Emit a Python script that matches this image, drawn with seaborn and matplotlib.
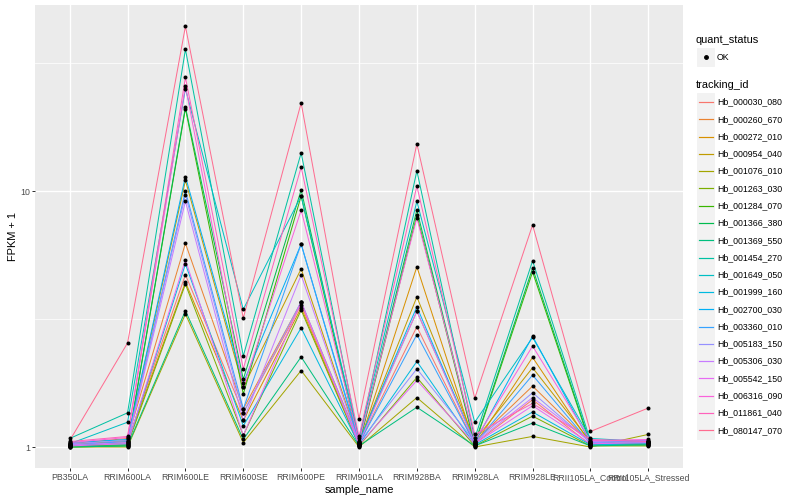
import numpy as np
import pandas as pd
import seaborn as sns
import matplotlib.pyplot as plt
from matplotlib.patches import Rectangle

# samples on the x axis
samples = ["PB350LA", "RRIM600LA", "RRIM600LE", "RRIM600SE", "RRIM600PE",
           "RRIM901LA", "RRIM928BA", "RRIM928LA", "RRIM928LE",
           "RRII105LA_Control", "RRII105LA_Stressed"]

genes = ["Hb_000030_080", "Hb_000260_670", "Hb_000272_010", "Hb_000954_040",
         "Hb_001076_010", "Hb_001263_030", "Hb_001284_070", "Hb_001366_380",
         "Hb_001369_550", "Hb_001454_270", "Hb_001649_050", "Hb_001999_160",
         "Hb_002700_030", "Hb_003360_010", "Hb_005183_150", "Hb_005306_030",
         "Hb_005542_150", "Hb_006316_090", "Hb_011861_040", "Hb_080147_070"]

# ggplot default hue palette for 20 levels
colors = ["#F8766D", "#EA8331", "#D89000", "#C09B00", "#A3A500", "#7CAE00",
          "#39B600", "#00BB4E", "#00BF7D", "#00C1A3", "#00BFC4", "#00BAE0",
          "#00B0F6", "#35A2FF", "#9590FF", "#C77CFF", "#E76BF3", "#FA62DB",
          "#FF62BC", "#FF6C90"]

# FPKM + 1 per gene, one value per sample
v_000030 = [1.02, 1.05, 4.71, 1.36, 3.60, 1.03, 2.95, 1.03, 1.53, 1.02, 1.04]
v_000260 = [1.03, 1.08, 6.25, 1.41, 3.68, 1.05, 3.39, 1.05, 1.73, 1.04, 1.05]
v_000272 = [1.01, 1.04, 4.41, 1.27, 3.50, 1.02, 5.06, 1.02, 2.24, 1.03, 1.02]
v_000954 = [1.02, 1.06, 11.0, 1.71, 4.97, 1.04, 3.86, 1.06, 2.04, 1.05, 1.06]
v_001076 = [1.00, 1.00, 3.31, 1.04, 1.99, 1.00, 1.56, 1.00, 1.10, 1.00, 1.12]
v_001263 = [1.01, 1.02, 4.33, 1.11, 3.43, 1.01, 1.87, 1.01, 1.32, 1.01, 1.01]
v_001284 = [1.00, 1.01, 21.0, 1.61, 9.56, 1.02, 8.04, 1.02, 4.83, 1.02, 1.02]
v_001366 = [1.01, 1.02, 21.3, 1.84, 10.1, 1.03, 8.43, 1.03, 5.00, 1.03, 1.03]
v_001369 = [1.00, 1.01, 3.41, 1.07, 2.25, 1.01, 1.43, 1.01, 1.24, 1.01, 1.02]
v_001454 = [1.08, 1.36, 35.8, 2.27, 14.1, 1.06, 12.0, 1.08, 5.34, 1.06, 1.04]
v_001649 = [1.03, 1.25, 25.1, 3.45, 9.56, 1.08, 9.12, 1.25, 2.68, 1.08, 1.05]
v_001999 = [1.02, 1.03, 5.19, 1.21, 2.92, 1.02, 2.16, 1.02, 1.37, 1.02, 1.03]
v_002700 = [1.04, 1.07, 11.4, 1.78, 6.21, 1.05, 3.53, 1.04, 2.71, 1.04, 1.06]
v_003360 = [1.02, 1.05, 10.0, 1.41, 6.21, 1.03, 2.75, 1.03, 1.91, 1.03, 1.04]
v_005183 = [1.03, 1.06, 9.68, 1.36, 3.70, 1.04, 2.02, 1.05, 1.63, 1.04, 1.05]
v_005306 = [1.02, 1.04, 9.12, 1.27, 4.70, 1.03, 3.39, 1.04, 1.56, 1.05, 1.06]
v_005542 = [1.01, 1.03, 5.38, 1.11, 3.68, 1.02, 1.82, 1.03, 1.45, 1.03, 1.04]
v_006316 = [1.04, 1.09, 25.7, 1.71, 8.43, 1.05, 7.85, 1.06, 2.48, 1.06, 1.07]
v_011861 = [1.05, 1.10, 27.8, 2.02, 12.4, 1.10, 10.46, 1.12, 1.48, 1.07, 1.05]
v_080147 = [1.06, 2.55, 44.0, 3.19, 22.1, 1.29, 15.3, 1.55, 7.37, 1.15, 1.42]

rows = [v_000030, v_000260, v_000272, v_000954, v_001076, v_001263, v_001284,
        v_001366, v_001369, v_001454, v_001649, v_001999, v_002700, v_003360,
        v_005183, v_005306, v_005542, v_006316, v_011861, v_080147]

df = pd.DataFrame([
    {"tracking_id": g, "sample_name": s, "x": j, "fpkm": vals[j]}
    for g, vals in zip(genes, rows) for j, s in enumerate(samples)
])

plt.rcParams["font.family"] = ["Liberation Sans", "DejaVu Sans"]

# dpi 72 so that points == pixels, like R's png device
fig = plt.figure(figsize=(800 / 72, 500 / 72), dpi=72)
ax = fig.add_axes([35 / 800, 32 / 500, (683 - 35) / 800, (468 - 5) / 500])
ax.set_facecolor("#EBEBEB")

sns.lineplot(data=df, x="x", y="fpkm", hue="tracking_id", hue_order=genes,
             palette=colors, estimator=None, sort=False, linewidth=1.0,
             legend=False, ax=ax, zorder=3)
sns.scatterplot(data=df, x="x", y="fpkm", color="black", s=16,
                linewidth=0, legend=False, ax=ax, zorder=4)

ax.set_yscale("log")
ax.set_ylim(10 ** -0.082, 10 ** 1.727)
ax.set_xlim(-0.6, len(samples) - 1 + 0.6)
ax.set_yticks([1, 10])
ax.set_yticklabels(["1", "10"])
ax.set_yticks([10 ** 0.5, 10 ** 1.5], minor=True)
ax.set_xticks(range(len(samples)))
ax.set_xticklabels(samples)
ax.set_xticks([], minor=True)

ax.grid(True, which="major", color="white", linewidth=1.4)
ax.grid(True, which="minor", axis="y", color="white", linewidth=0.7)
ax.set_axisbelow(True)
for sp in ax.spines.values():
    sp.set_visible(False)
ax.tick_params(which="major", length=2.75, width=1.0, color="#333333",
               labelcolor="#4D4D4D", labelsize=8.8, pad=2)
ax.tick_params(which="minor", length=0)

ax.set_xlabel("sample_name", fontsize=11, labelpad=3)
ax.set_ylabel("FPKM + 1", fontsize=11, labelpad=2)

# ggplot-like legends drawn in pixel coordinates of the figure
def fx(px):
    return px / 800

def fy(py):
    return 1 - py / 500

key = 17.28
fig.text(fx(696), fy(40), "quant_status", fontsize=11, va="center", ha="left")
fig.patches.append(Rectangle((fx(697), fy(57 + key / 2)), key / 800, key / 500,
                             transform=fig.transFigure, color="#F2F2F2"))
fig.add_artist(plt.Line2D([fx(697 + key / 2)], [fy(57)], marker="o",
                          markersize=3.8, color="black", linestyle="none",
                          transform=fig.transFigure))
fig.text(fx(717), fy(57), "OK", fontsize=8.8, va="center", ha="left")

fig.text(fx(696), fy(85), "tracking_id", fontsize=11, va="center", ha="left")
for i, (g, c) in enumerate(zip(genes, colors)):
    yc = 102 + i * key
    fig.patches.append(Rectangle((fx(697), fy(yc + key / 2)), key / 800, key / 500,
                                 transform=fig.transFigure, color="#F2F2F2"))
    fig.add_artist(plt.Line2D([fx(698.5), fx(712.5)], [fy(yc), fy(yc)],
                              color=c, linewidth=1.2,
                              transform=fig.transFigure))
    fig.text(fx(717), fy(yc), g, fontsize=8.8, va="center", ha="left")

fig.savefig("out.png", dpi=72, facecolor="white")
